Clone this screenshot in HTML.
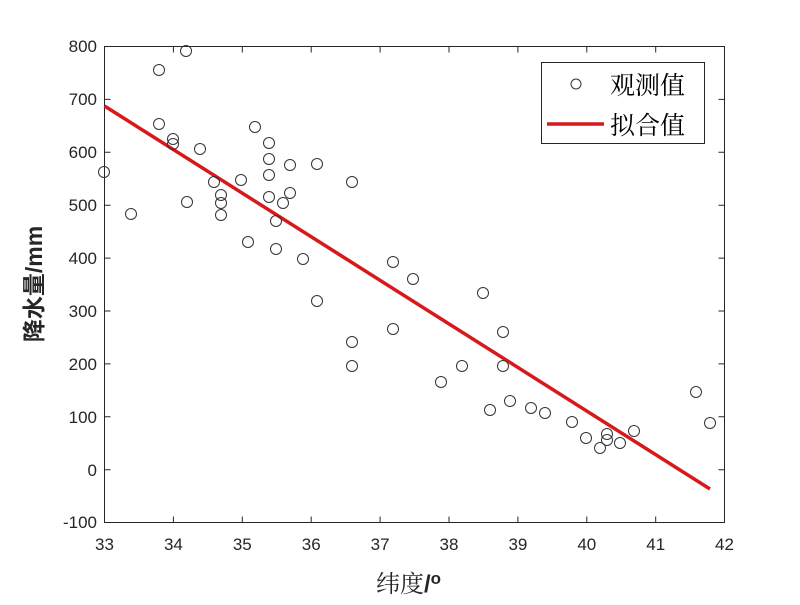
<!DOCTYPE html>
<html><head><meta charset="utf-8"><style>html,body{margin:0;padding:0;background:#fff;}</style></head>
<body>
<svg width="800" height="600" xmlns="http://www.w3.org/2000/svg" font-family="Liberation Sans, Noto Sans CJK SC, sans-serif">
<rect width="800" height="600" fill="#fff"/>
<g stroke="#262626" stroke-width="1" fill="none">
<rect x="104.5" y="46.5" width="620" height="476"/>
<path d="M104.5,522.5v-6M173.4,522.5v-6M242.3,522.5v-6M311.2,522.5v-6M380.1,522.5v-6M449,522.5v-6M517.9,522.5v-6M586.8,522.5v-6M655.7,522.5v-6
M104.5,46.5v6M173.4,46.5v6M242.3,46.5v6M311.2,46.5v6M380.1,46.5v6M449,46.5v6M517.9,46.5v6M586.8,46.5v6M655.7,46.5v6
M104.5,46.5h6M104.5,99.4h6M104.5,152.3h6M104.5,205.2h6M104.5,258.1h6M104.5,311h6M104.5,363.9h6M104.5,416.8h6M104.5,469.7h6
M724.5,46.5h-6M724.5,99.4h-6M724.5,152.3h-6M724.5,205.2h-6M724.5,258.1h-6M724.5,311h-6M724.5,363.9h-6M724.5,416.8h-6M724.5,469.7h-6"/>
</g>
<g font-size="17" fill="#262626" text-anchor="end">
<text x="97" y="52">800</text><text x="97" y="105">700</text><text x="97" y="158">600</text><text x="97" y="211">500</text><text x="97" y="264">400</text><text x="97" y="317">300</text><text x="97" y="370">200</text><text x="97" y="423">100</text><text x="97" y="476">0</text><text x="97" y="528">-100</text>
</g>
<g font-size="17" fill="#262626" text-anchor="middle">
<text x="104.5" y="550">33</text><text x="173.4" y="550">34</text><text x="242.3" y="550">35</text><text x="311.2" y="550">36</text><text x="380.1" y="550">37</text><text x="449" y="550">38</text><text x="517.9" y="550">39</text><text x="586.8" y="550">40</text><text x="655.7" y="550">41</text><text x="724.5" y="550">42</text>
</g>
<text x="376" y="592" font-size="24" fill="#262626" font-family="Liberation Serif, Noto Serif CJK SC, serif">纬度<tspan font-family="Liberation Sans, sans-serif" font-weight="bold">/</tspan><tspan font-family="Liberation Sans, sans-serif" font-weight="bold" font-size="17" dy="-8">o</tspan></text>
<text transform="translate(42,284) rotate(-90)" font-size="23" font-weight="bold" text-anchor="middle" fill="#262626">降水量/mm</text>
<line x1="104.5" y1="106" x2="710" y2="489" stroke="#d7191c" stroke-width="3.5"/>
<g fill="none" stroke="#333" stroke-width="1">
<circle cx="104" cy="172" r="5.5"/><circle cx="131" cy="214" r="5.5"/><circle cx="159" cy="70" r="5.5"/><circle cx="159" cy="124" r="5.5"/><circle cx="173" cy="139" r="5.5"/><circle cx="173" cy="144" r="5.5"/><circle cx="186" cy="51" r="5.5"/><circle cx="187" cy="202" r="5.5"/><circle cx="200" cy="149" r="5.5"/><circle cx="214" cy="182" r="5.5"/><circle cx="221" cy="195" r="5.5"/><circle cx="221" cy="203" r="5.5"/><circle cx="221" cy="215" r="5.5"/><circle cx="241" cy="180" r="5.5"/><circle cx="248" cy="242" r="5.5"/><circle cx="255" cy="127" r="5.5"/><circle cx="269" cy="143" r="5.5"/><circle cx="269" cy="159" r="5.5"/><circle cx="269" cy="175" r="5.5"/><circle cx="269" cy="197" r="5.5"/><circle cx="276" cy="221" r="5.5"/><circle cx="276" cy="249" r="5.5"/><circle cx="283" cy="203" r="5.5"/><circle cx="290" cy="165" r="5.5"/><circle cx="290" cy="193" r="5.5"/><circle cx="303" cy="259" r="5.5"/><circle cx="317" cy="164" r="5.5"/><circle cx="317" cy="301" r="5.5"/><circle cx="352" cy="182" r="5.5"/><circle cx="352" cy="342" r="5.5"/><circle cx="352" cy="366" r="5.5"/><circle cx="393" cy="262" r="5.5"/><circle cx="393" cy="329" r="5.5"/><circle cx="413" cy="279" r="5.5"/><circle cx="441" cy="382" r="5.5"/><circle cx="462" cy="366" r="5.5"/><circle cx="483" cy="293" r="5.5"/><circle cx="490" cy="410" r="5.5"/><circle cx="503" cy="332" r="5.5"/><circle cx="503" cy="366" r="5.5"/><circle cx="510" cy="401" r="5.5"/><circle cx="531" cy="408" r="5.5"/><circle cx="545" cy="413" r="5.5"/><circle cx="572" cy="422" r="5.5"/><circle cx="586" cy="438" r="5.5"/><circle cx="600" cy="448" r="5.5"/><circle cx="607" cy="434" r="5.5"/><circle cx="607" cy="440" r="5.5"/><circle cx="620" cy="443" r="5.5"/><circle cx="634" cy="431" r="5.5"/><circle cx="696" cy="392" r="5.5"/><circle cx="710" cy="423" r="5.5"/>
</g>
<rect x="541.5" y="62.5" width="163" height="81" fill="#fff" stroke="#262626" stroke-width="1"/>
<circle cx="576" cy="84" r="5" fill="none" stroke="#333" stroke-width="1"/>
<line x1="547" y1="124" x2="604" y2="124" stroke="#d7191c" stroke-width="3.5"/>
<g font-size="25" fill="#000" font-family="Liberation Serif, Noto Serif CJK SC, serif">
<text x="610" y="94">观测值</text><text x="610" y="134">拟合值</text>
</g>
</svg>
</body></html>
